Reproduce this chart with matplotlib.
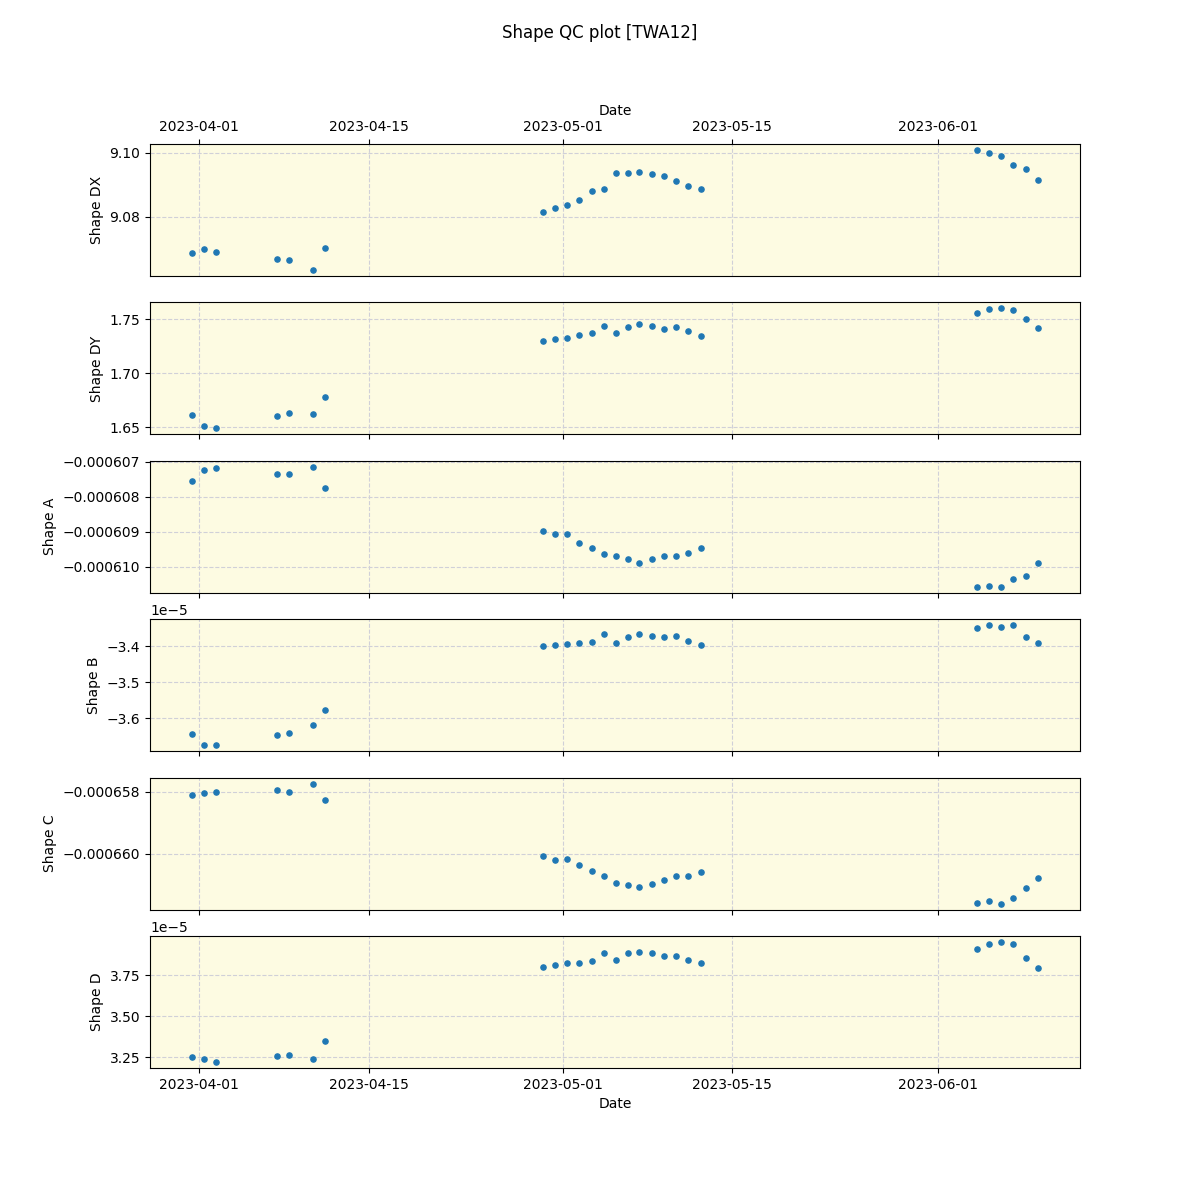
import matplotlib
matplotlib.use('Agg')
import matplotlib.pyplot as plt
import numpy as np
import pandas as pd

# observation times
dates = ['2023-03-31 10:00', '2023-04-01 10:00', '2023-04-02 10:00',
         '2023-04-07 10:00', '2023-04-08 10:00', '2023-04-10 10:00',
         '2023-04-11 10:00', '2023-04-29 09:00', '2023-04-30 09:00',
         '2023-05-01 09:00', '2023-05-02 09:00', '2023-05-03 10:00',
         '2023-05-04 09:30', '2023-05-05 09:30', '2023-05-06 10:00',
         '2023-05-07 08:00', '2023-05-08 10:00', '2023-05-09 10:00',
         '2023-05-10 09:30', '2023-05-11 09:30', '2023-05-12 09:30',
         '2023-06-04 06:00', '2023-06-05 06:00', '2023-06-06 05:30',
         '2023-06-07 05:30', '2023-06-08 06:00', '2023-06-09 06:00']

shape_dx = [9.0686, 9.0698, 9.0690, 9.0667, 9.0664, 9.0633, 9.0702,
            9.0815, 9.0827, 9.0837, 9.0852, 9.0881, 9.0888, 9.0937,
            9.0937, 9.0940, 9.0934, 9.0928, 9.0912, 9.0896, 9.0887,
            9.1009, 9.1000, 9.0991, 9.0962, 9.0950, 9.0915]

shape_dy = [1.6611, 1.6509, 1.6491, 1.6602, 1.6630, 1.6620, 1.6778,
            1.7296, 1.7315, 1.7324, 1.7352, 1.7370, 1.7435, 1.7370,
            1.7426, 1.7454, 1.7435, 1.7407, 1.7426, 1.7389, 1.7343,
            1.7556, 1.7593, 1.7602, 1.7583, 1.7500, 1.7417]

# units of 1e-6
shape_a = [-607.543, -607.248, -607.171, -607.343, -607.343, -607.143, -607.743,
           -608.971, -609.057, -609.057, -609.314, -609.457, -609.629, -609.705,
           -609.771, -609.886, -609.771, -609.686, -609.686, -609.600, -609.457,
           -610.571, -610.543, -610.571, -610.343, -610.257, -609.886]

# units of 1e-5
shape_b = [-3.6444, -3.6750, -3.6750, -3.6472, -3.6417, -3.6194, -3.5778,
           -3.4000, -3.3972, -3.3944, -3.3917, -3.3889, -3.3667, -3.3917,
           -3.3750, -3.3667, -3.3722, -3.3750, -3.3722, -3.3861, -3.3972,
           -3.3500, -3.3417, -3.3472, -3.3417, -3.3750, -3.3917]

# units of 1e-6
shape_c = [-658.097, -658.032, -658.000, -657.935, -658.000, -657.742, -658.258,
           -660.065, -660.194, -660.161, -660.355, -660.548, -660.710, -660.935,
           -661.000, -661.065, -660.968, -660.839, -660.710, -660.710, -660.581,
           -661.581, -661.516, -661.613, -661.419, -661.097, -660.774]

# units of 1e-5
shape_d = [3.2500, 3.2378, 3.2194, 3.2561, 3.2622, 3.2378, 3.3480,
           3.8010, 3.8133, 3.8255, 3.8255, 3.8378, 3.8867, 3.8439,
           3.8867, 3.8929, 3.8867, 3.8684, 3.8684, 3.8439, 3.8255,
           3.9112, 3.9418, 3.9541, 3.9418, 3.8561, 3.7949]

labels = ['Shape DX', 'Shape DY', 'Shape A', 'Shape B', 'Shape C', 'Shape D']

x = pd.to_datetime(dates)
series = [np.array(shape_dx), np.array(shape_dy), np.array(shape_a) * 1e-6,
          np.array(shape_b) * 1e-5, np.array(shape_c) * 1e-6, np.array(shape_d) * 1e-5]

fig, axes = plt.subplots(6, 1, sharex=True, figsize=(12, 12), dpi=100)
fig.suptitle('Shape QC plot [TWA12]')

for ax, y, lab in zip(axes, series, labels):
    ax.set_facecolor('#fdfbe2')
    ax.scatter(x, y, s=14, color='#1f77b4', zorder=3)
    ax.grid(True, linestyle='--', color='#d0d0d8', linewidth=0.8)
    ax.set_axisbelow(True)
    ax.set_ylabel(lab)

axes[0].xaxis.tick_top()
axes[0].xaxis.set_tick_params(labeltop=True, labelbottom=False)
axes[0].xaxis.set_label_position('top')
axes[0].set_xlabel('Date')
axes[-1].set_xlabel('Date')

plt.savefig('out.png')
